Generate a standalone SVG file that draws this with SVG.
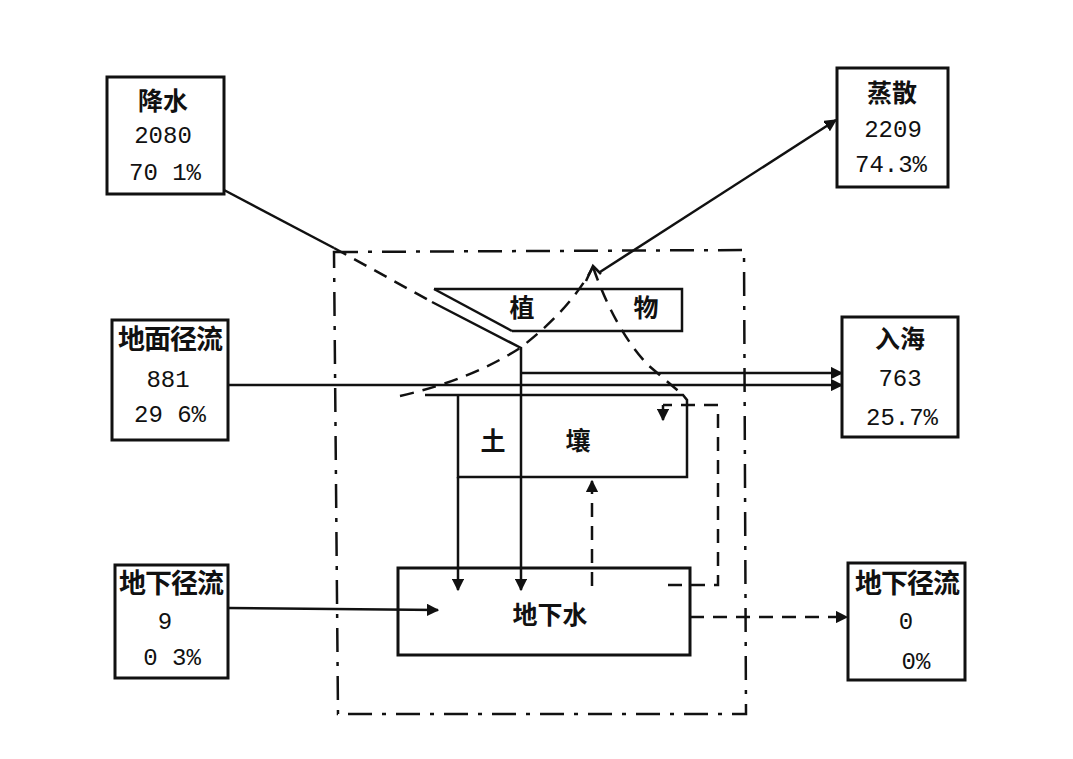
<svg xmlns="http://www.w3.org/2000/svg" width="1073" height="759" viewBox="0 0 1073 759">
<style>
.box{fill:#fff;stroke:#111;stroke-width:3}
.ln{fill:none;stroke:#111;stroke-width:2.5}
.dsh{fill:none;stroke:#111;stroke-width:2.5;stroke-dasharray:14 9}
.dd{fill:none;stroke:#111;stroke-width:2.5;stroke-dasharray:24 10 4 10}
.t{font-family:"Noto Sans CJK SC","Liberation Sans",sans-serif;font-weight:bold;font-size:25px;fill:#111;text-anchor:middle}
.t4{font-family:"Noto Sans CJK SC","Liberation Sans",sans-serif;font-weight:bold;font-size:27px;fill:#111;text-anchor:middle;letter-spacing:-1px}
.n{font-family:"Liberation Mono","DejaVu Sans Mono",monospace;font-size:24px;fill:#111;text-anchor:middle}
</style>
<defs>
<marker id="ah" viewBox="0 0 10 10" refX="9" refY="5" markerWidth="5" markerHeight="5" orient="auto" markerUnits="strokeWidth">
<path d="M0,0 L10,5 L0,10 z" fill="#111"/>
</marker>
</defs>
<rect width="1073" height="759" fill="#fff"/>

<g id="boundary">
<path class="dd" d="M334,252 L744,250 L746,714 L338,714 Z"/>
</g>

<g id="plant">
<path class="ln" d="M434,289 L682,289 L682,331 L512,331"/>
<text class="t" x="522" y="317">植</text>
<text class="t" x="646" y="317">物</text>
</g>

<g id="soil">
<path class="ln" d="M425,395 L683,395 L687,400 L687,477 L458,477 L458,395"/>
<text class="t" x="493" y="450">土</text>
<text class="t" x="578" y="450">壤</text>
</g>

<g id="groundwater">
<rect class="box" x="398" y="568" width="292" height="87"/>
<text class="t" x="550" y="624">地下水</text>
</g>

<g id="precip">
<rect class="box" x="107" y="77" width="117" height="117"/>
<text class="t" x="163" y="110">降水</text>
<text class="n" x="163" y="143">2080</text>
<text class="n" x="165" y="180">70 1%</text>
</g>

<g id="evap">
<rect class="box" x="837" y="68" width="111" height="119"/>
<text class="t" x="892" y="102">蒸散</text>
<text class="n" x="893" y="137">2209</text>
<text class="n" x="891" y="172">74.3%</text>
</g>

<g id="surface">
<rect class="box" x="112" y="320" width="116" height="120"/>
<text class="t4" x="170" y="349">地面径流</text>
<text class="n" x="168" y="387">881</text>
<text class="n" x="170" y="422">29 6%</text>
</g>

<g id="sea">
<rect class="box" x="842" y="317" width="116" height="120"/>
<text class="t" x="900" y="348">入海</text>
<text class="n" x="900" y="386">763</text>
<text class="n" x="902" y="425">25.7%</text>
</g>

<g id="ugin">
<rect class="box" x="115" y="565" width="113" height="113"/>
<text class="t4" x="171" y="593">地下径流</text>
<text class="n" x="165" y="629">9</text>
<text class="n" x="172" y="665">0 3%</text>
</g>

<g id="ugout">
<rect class="box" x="848" y="563" width="117" height="117"/>
<text class="t4" x="907" y="593">地下径流</text>
<text class="n" x="906" y="629">0</text>
<text class="n" x="916" y="669">0%</text>
</g>

<g id="connectors">
<path class="ln" d="M224,190 L334,248"/>
<path class="dsh" d="M334,248 L432,302"/>
<path class="ln" d="M432,302 L521,348 L521,590" marker-end="url(#ah)"/>
<path class="ln" d="M434,289 L512,331"/>
<path class="dsh" d="M400,396 Q470,380 520,348 Q570,310 593,267"/>
<path class="dsh" d="M593,267 Q615,330 648,365 L683,395"/>
<path class="ln" d="M586,281 L593,266 L601,274"/>
<path class="ln" d="M600,272 L836,120" marker-end="url(#ah)"/>
<path class="ln" d="M228,385 L842,385" marker-end="url(#ah)"/>
<path class="ln" d="M521,373 L842,373" marker-end="url(#ah)"/>
<path class="ln" d="M458,477 L458,590" marker-end="url(#ah)"/>
<path class="dsh" d="M592,586 L592,481" marker-end="url(#ah)"/>
<path class="dsh" d="M668,585 L718,585 L718,405 L663,405"/>
<path class="ln" d="M663,405 L663,420" marker-end="url(#ah)"/>
<path class="ln" d="M228,608 L438,610" marker-end="url(#ah)"/>
<path class="dsh" d="M690,617 L847,617" marker-end="url(#ah)"/>
</g>
</svg>
